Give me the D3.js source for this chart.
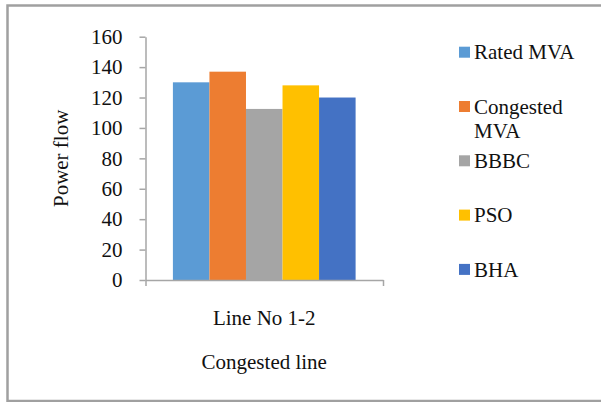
<!DOCTYPE html>
<html>
<head>
<meta charset="utf-8">
<script src="https://cdn.jsdelivr.net/npm/d3@7/dist/d3.min.js"></script>
<style>
  html, body { margin: 0; padding: 0; background: #fff; }
  svg { display: block; }
</style>
</head>
<body>
<div id="chart"></div>
<script>
// Power flow on congested line 1-2, by method
const categories = ["Line No 1-2"];
const seriesNames = ["Rated MVA", "Congested MVA", "BBBC", "PSO", "BHA"];
const seriesValues = [130, 137, 112.5, 128, 120];
const seriesColors = ["#5B9BD5", "#ED7D31", "#A5A5A5", "#FFC000", "#4472C4"];
const yTicks = [0, 20, 40, 60, 80, 100, 120, 140, 160];

const W = 601, H = 402;
const plot = { left: 145.5, right: 383, top: 36.7, bottom: 280 };
const serif = "'Liberation Serif', 'Times New Roman', Times, Tinos, 'Noto Serif', 'DejaVu Serif', 'Nimbus Roman', FreeSerif, serif";
const ink = "#111";

const svg = d3.select("#chart").append("svg")
  .attr("width", W).attr("height", H)
  .style("font-family", serif);

// outer frame
svg.append("rect")
  .attr("x", 7.5).attr("y", 5.5)
  .attr("width", 600).attr("height", 395.5)
  .attr("fill", "#fff")
  .attr("stroke", "#a0a0a0").attr("stroke-width", 2.5);

const y = d3.scaleLinear().domain([0, 160]).range([plot.bottom, plot.top]);

const xCat = d3.scaleBand().domain(categories).range([plot.left, plot.right]);
const xSeries = d3.scaleBand().domain(seriesNames)
  .range([plot.left, plot.right]).paddingInner(0).paddingOuter(0.75);

// bars
svg.append("g").selectAll("rect")
  .data(seriesNames.map((s, i) => ({ s, v: seriesValues[i], c: seriesColors[i] })))
  .join("rect")
  .attr("x", d => xSeries(d.s))
  .attr("width", xSeries.bandwidth())
  .attr("y", d => y(d.v))
  .attr("height", d => y(0) - y(d.v))
  .attr("fill", d => d.c);

const axisColor = "#a6a6a6";

// y axis
const gy = svg.append("g")
  .attr("transform", `translate(${plot.left},0)`)
  .call(d3.axisLeft(y).tickValues(yTicks).tickSizeInner(6).tickSizeOuter(0).tickPadding(17));
gy.attr("font-family", null).attr("font-size", null);
gy.select(".domain").attr("stroke", axisColor).attr("stroke-width", 1.5);
gy.selectAll(".tick line").attr("stroke", axisColor).attr("stroke-width", 1.5);
gy.selectAll(".tick text")
  .style("font-family", serif).style("font-size", "21px").attr("fill", ink);

// x axis with boundary ticks at both ends of the category
const xEdge = d3.scaleLinear().domain([0, 1]).range([plot.left, plot.right]);
const gx = svg.append("g")
  .attr("transform", `translate(0,${plot.bottom})`)
  .call(d3.axisBottom(xEdge).tickValues([0, 1]).tickFormat("").tickSizeInner(6).tickSizeOuter(0));
gx.select(".domain").attr("stroke", axisColor).attr("stroke-width", 1.5);
gx.selectAll(".tick line").attr("stroke", axisColor).attr("stroke-width", 1.5);

// category label
svg.append("g").selectAll("text")
  .data(categories)
  .join("text")
  .attr("x", d => xCat(d) + xCat.bandwidth() / 2)
  .attr("y", 325)
  .attr("text-anchor", "middle")
  .style("font-family", serif).style("font-size", "21px").attr("fill", ink)
  .text(d => d);

// axis titles
svg.append("text")
  .attr("x", (plot.left + plot.right) / 2)
  .attr("y", 369)
  .attr("text-anchor", "middle")
  .style("font-family", serif).style("font-size", "21px").attr("fill", ink)
  .text("Congested line");

svg.append("text")
  .attr("transform", `translate(68,${(plot.top + plot.bottom) / 2}) rotate(-90)`)
  .attr("text-anchor", "middle")
  .style("font-family", serif).style("font-size", "21px").attr("fill", ink)
  .text("Power flow");

// legend
const legendLabels = [["Rated MVA"], ["Congested", "MVA"], ["BBBC"], ["PSO"], ["BHA"]];
const leg = svg.append("g").selectAll("g")
  .data(seriesNames.map((s, i) => ({ lines: legendLabels[i], c: seriesColors[i], i })))
  .join("g")
  .attr("transform", d => `translate(459,${46.7 + d.i * 54.3})`);
leg.append("rect")
  .attr("width", 11).attr("height", 11)
  .attr("fill", d => d.c);
leg.append("text")
  .attr("x", 15)
  .attr("y", 12.6)
  .style("font-family", serif).style("font-size", "21px").attr("fill", ink)
  .selectAll("tspan")
  .data(d => d.lines)
  .join("tspan")
  .attr("x", 15)
  .attr("dy", (d, j) => j === 0 ? 0 : 24)
  .text(d => d);
</script>
</body>
</html>
